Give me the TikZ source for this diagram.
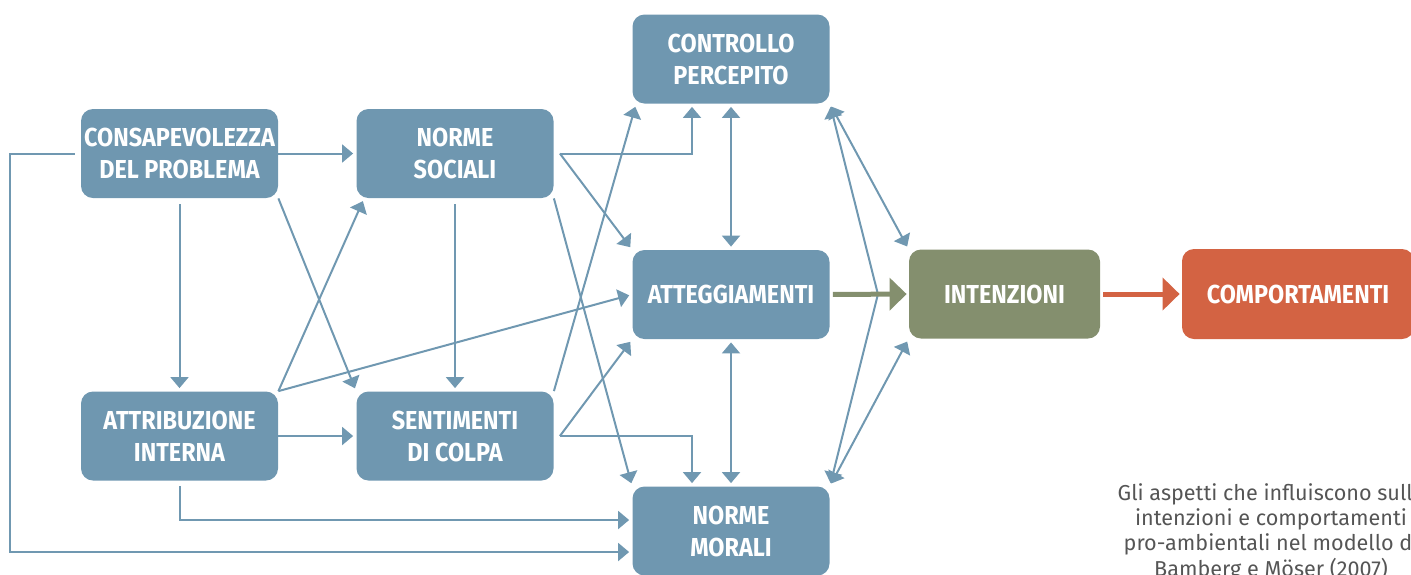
\documentclass[tikz,border=0pt]{standalone}
\usepackage{fontspec}
\usepackage{xcolor}
\usetikzlibrary{arrows.meta,calc}
\newfontfamily\boxfont[FakeStretch=0.9]{Fira Sans}
\newfontfamily\capfont{Fira Sans}
\definecolor{boxblue}{RGB}{111,151,176}
\definecolor{lineblue}{RGB}{112,152,177}
\definecolor{boxgreen}{RGB}{132,143,110}
\definecolor{boxred}{RGB}{211,99,67}
\definecolor{capgray}{RGB}{85,85,85}
\tikzset{
  varbox/.style={rounded corners=6pt, fill=boxblue, text=white, align=center,
    minimum width=98.5pt, minimum height=44.5pt, inner sep=0pt,
    font=\boxfont\bfseries\fontsize{13}{16}\selectfont},
  lnk/.style={draw=lineblue, line width=1pt, shorten >=1.5pt,
    -{Triangle[length=5.5pt,width=9pt]}},
  lnktwo/.style={lnk, shorten <=1.5pt,
    {Triangle[length=5.5pt,width=9pt]}-{Triangle[length=5.5pt,width=9pt]}},
  fatarr/.style={line width=2.5pt, shorten <=1.5pt, shorten >=1pt,
    -{Triangle[length=8.5pt,width=16pt]}},
  capt/.style={text=capgray, align=center, inner sep=0pt,
    font=\capfont\fontsize{10.8}{12.7}\selectfont}
}
\begin{document}
\begin{tikzpicture}[x=0.5pt,y=-0.5pt]
  % one unit = one pixel of the 1411 x 574 frame, y downwards
  \useasboundingbox (0,0) rectangle (1411,574);
  \node[varbox] (cons)   at (179.5,153.5) {CONSAPEVOLEZZA\\DEL PROBLEMA};
  \node[varbox] (norsoc) at (455,153.5)   {NORME\\SOCIALI};
  \node[varbox] (contr)  at (731,59)      {CONTROLLO\\PERCEPITO};
  \node[varbox] (att)    at (731,294.5)   {ATTEGGIAMENTI};
  \node[varbox] (attr)   at (179.5,436)   {ATTRIBUZIONE\\INTERNA};
  \node[varbox] (sent)   at (455,436)     {SENTIMENTI\\DI COLPA};
  \node[varbox] (normor) at (731,531)     {NORME\\MORALI};
  \node[varbox,fill=boxgreen,minimum width=95.5pt] (intz) at (1004.5,294) {INTENZIONI};
  \node[varbox,fill=boxred,minimum width=116pt,minimum height=45pt] (comp) at (1298,294) {COMPORTAMENTI};
  \node[capt] (cap) at (1271,532) {Gli aspetti che influiscono sulle\\intenzioni e comportamenti\\pro-ambientali nel modello di\\Bamberg e Möser (2007)};

  \coordinate (lft) at (10,0);
  \coordinate (ns) at ($(norsoc.east)+(6,0)$);
  \coordinate (se) at ($(sent.east)+(6,0)$);
  \coordinate (vtx) at ($(att.east)!0.61!(intz.west)$);

  % first column
  \draw[lnk] (cons.east) -- (norsoc.west);
  \draw[lnk] (attr.east) -- (sent.west);
  \draw[lnk,shorten <=3pt] (cons.south) -- (attr.north);
  \draw[lnk,shorten <=3pt] (norsoc.south) -- (sent.north);
  \draw[lnk] (cons.south east) -- (sent.north west);
  \draw[lnk] (attr.north east) -- ($(norsoc.south west)+(8,0)$);
  \draw[lnk] (attr.north east) -- (att.west);
  \draw[lnk,shorten <=3pt] (cons.west) -- (lft |- cons.west) |- ($(normor.west)+(0,21)$);
  \draw[lnk,shorten <=2.5pt] (attr.south) |- ($(normor.west)+(0,-11)$);

  % second column
  \draw[lnk] (ns) -| ($(contr.south)+(-39,0)$);
  \draw[lnk] (ns) -- (att.north west);
  \draw[lnk] (norsoc.south east) -- (normor.north west);
  \draw[lnk] (sent.north east) -- ($(contr.south west)+(4,0)$);
  \draw[lnk] (se) -- (att.south west);
  \draw[lnk] (se) -| ($(normor.north)+(-39,0)$);

  % third column
  \draw[lnktwo] (contr.south) -- (att.north);
  \draw[lnktwo] (att.south) -- (normor.north);
  \draw[lnktwo] (contr.south east) -- (intz.north west);
  \draw[lnktwo] (contr.south east) -- (vtx) -- (normor.north east);
  \draw[lnktwo] (normor.north east) -- (intz.south west);

  \draw[fatarr,boxgreen] (att.east) -- (intz.west);
  \draw[fatarr,boxred] (intz.east) -- (comp.west);
\end{tikzpicture}
\end{document}
